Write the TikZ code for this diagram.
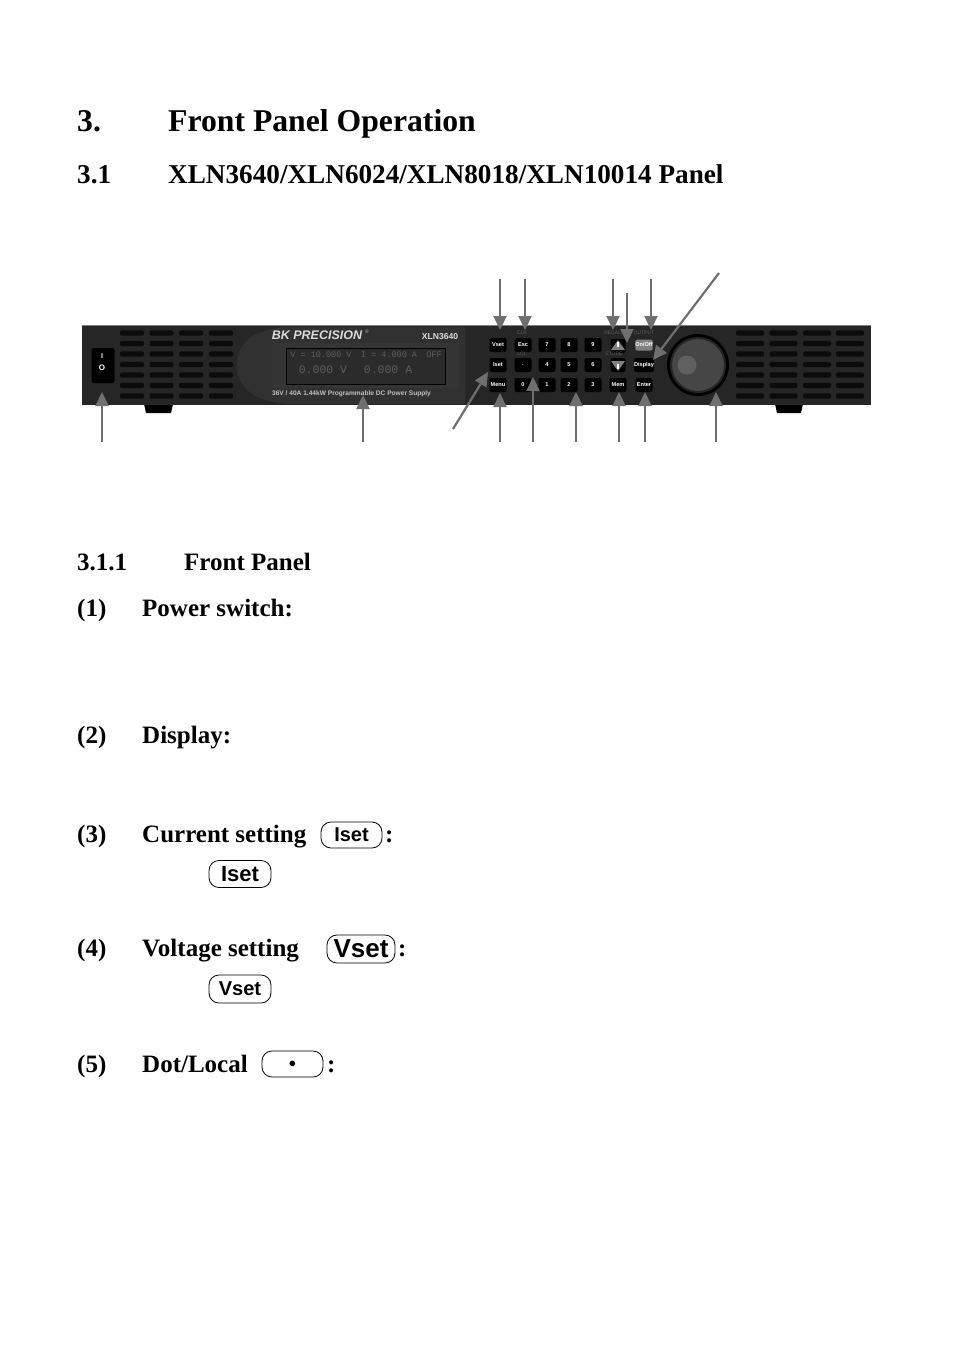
\documentclass[tikz,border=0pt]{standalone}
\usepackage{fontspec}
\setmainfont{Liberation Serif}
\setsansfont{Liberation Sans}
\setmonofont{Liberation Mono}
\usepackage{tikz}
\usetikzlibrary{arrows.meta}

\definecolor{bodygray}{HTML}{262626}
\definecolor{ventgray}{HTML}{0B0B0B}
\definecolor{bezelgray}{HTML}{353535}
\definecolor{lcdgray}{HTML}{2B2B2B}
\definecolor{lcdtext}{HTML}{5E5E5E}
\definecolor{arrowgray}{HTML}{6F6F6F}

\tikzset{
  heading/.style = { anchor = base west, inner sep = 0, font = \bfseries\fontsize{31.7}{36}\selectfont },
  subheading/.style = { anchor = base west, inner sep = 0, font = \bfseries\fontsize{27.2}{30}\selectfont },
  itemtext/.style = { anchor = base west, inner sep = 0, font = \bfseries\fontsize{25}{30}\selectfont },
  keyicon/.style = { draw, rounded corners = 10, line width = .8, inner sep = 0, font = \sffamily\bfseries\fontsize{#1}{25}\selectfont },
  keyicon/.default = 21,
  panelkey/.style = { fill = black, text = white, rounded corners = 2, minimum width = 17, minimum height = 14, inner sep = 0, font = \sffamily\bfseries\fontsize{5.6}{7}\selectfont },
  panelnote/.style = { text = lcdtext, inner sep = 0, font = \sffamily\fontsize{5}{6}\selectfont },
  lcdtextnode/.style = { text = lcdtext, inner sep = 0, font = \ttfamily\fontsize{#1}{14}\selectfont },
  callout/.style = { draw = arrowgray, line width = 2.2, -{Triangle[width = 13, length = 14]} },
}

\begin{document}
\begin{tikzpicture}[x = 1pt, y = -1pt]
    \useasboundingbox (0, 0) rectangle (954, 1354);

    % page text
    \node[heading] (secnum) at (77, 131) {3.};
    \node[heading] (sectitle) at (168, 131) {Front Panel Operation};
    \node[subheading] (subnum) at (77, 183) {3.1};
    \node[subheading] (subtitle) at (168, 183) {XLN3640/XLN6024/XLN8018/XLN10014 Panel};
    \node[itemtext] (subsubnum) at (77, 570) {3.1.1};
    \node[itemtext] (subsubtitle) at (184, 570) {Front Panel};
    \node[itemtext] (num1) at (77, 616) {(1)};
    \node[itemtext] (item1) at (142, 616) {Power switch:};
    \node[itemtext] (num2) at (77, 743) {(2)};
    \node[itemtext] (item2) at (142, 743) {Display:};
    \node[itemtext] (num3) at (77, 842) {(3)};
    \node[itemtext] (item3) at (142, 842) {Current setting};
    \node[itemtext] (colon3) at (385, 842) {:};
    \node[itemtext] (num4) at (77, 956) {(4)};
    \node[itemtext] (item4) at (142, 956) {Voltage setting};
    \node[itemtext] (colon4) at (398, 956) {:};
    \node[itemtext] (num5) at (77, 1072) {(5)};
    \node[itemtext] (item5) at (142, 1072) {Dot/Local};
    \node[itemtext] (colon5) at (327, 1072) {:};

    % key icons
    \node[keyicon = 20, minimum width = 61, minimum height = 26] (isetA) at (351.5, 835) {Iset};
    \node[keyicon = 22, minimum width = 62, minimum height = 27] (isetB) at (240, 874) {Iset};
    \node[keyicon = 26, minimum width = 68, minimum height = 28] (vsetA) at (361, 949) {Vset};
    \node[keyicon = 20, minimum width = 62, minimum height = 28] (vsetB) at (240, 989) {Vset};
    \node[keyicon, minimum width = 61, minimum height = 26] (dotkey) at (292.5, 1064) {\fontsize{14}{14}\selectfont $\bullet$};

    % panel body
    \fill[black] (144, 404) -- (173, 404) -- (171, 413) -- (146, 413) -- cycle;
    \fill[black] (775, 404) -- (803, 404) -- (801, 413) -- (777, 413) -- cycle;
    \fill[bodygray] (82, 325) rectangle (871, 405);
    \draw[gray, line width = .8] (82, 325) -- (871, 325);
    \fill[bodygray!95!white] (285, 327) .. controls (250, 330) and (237, 345) .. (237, 365) .. controls (237, 385) and (250, 400) .. (285, 404) -- (465, 404) -- (465, 327) -- cycle;

    % vents
    \foreach \ventrow in {333, 343.5, 354, 364.5, 375, 385.5, 396} {
      \foreach \ventx in {120, 149.5, 179, 209} \fill[ventgray, rounded corners = 2] (\ventx, \ventrow - 2.7) rectangle ++(24, 5.4);
      \foreach \ventx in {736, 769.5, 803, 836} \fill[ventgray, rounded corners = 2] (\ventx, \ventrow - 2.7) rectangle ++(28, 5.4);
    }

    % power switch
    \node[fill = black, rounded corners = 2, minimum width = 23, minimum height = 35, inner sep = 0] (switch) at (103, 365.5) {};
    \node[text = white, inner sep = 0, font = \sffamily\bfseries\fontsize{7}{8}\selectfont] (switchon) at (102, 356) {I};
    \node[text = white, inner sep = 0, font = \sffamily\bfseries\fontsize{8}{8}\selectfont] (switchoff) at (102, 368) {O};

    % display
    \node[fill = bezelgray, rounded corners = 3, minimum width = 187, minimum height = 45, inner sep = 0] (bezel) at (365.5, 365.5) {};
    \node[fill = lcdgray, draw = black, minimum width = 159, minimum height = 36, inner sep = 0] (lcd) at (365.5, 366) {};
    \node[lcdtextnode = 8.5] (lcdV) at (321, 355) {V = 10.000 V};
    \node[lcdtextnode = 8.5] (lcdI) at (389, 355) {I = 4.000 A};
    \node[lcdtextnode = 8.5] (lcdS) at (434, 355) {OFF};
    \node[lcdtextnode = 11.5] (lcdVout) at (323, 370) {0.000 V};
    \node[lcdtextnode = 11.5] (lcdIout) at (388, 370) {0.000 A};

    % brand and model
    \node[text = white!85!black, inner sep = 0, font = \sffamily\bfseries\itshape\fontsize{12.5}{13}\selectfont] (brand) at (317, 335) {BK PRECISION};
    \node[text = white!70!black, inner sep = 0, font = \sffamily\fontsize{5}{6}\selectfont] (regmark) at (367, 332) {\textregistered};
    \node[text = white!85!black, inner sep = 0, font = \sffamily\bfseries\fontsize{8.6}{9}\selectfont] (model) at (440, 337) {XLN3640};
    \node[text = white!75!black, inner sep = 0, font = \sffamily\bfseries\fontsize{6.6}{7}\selectfont] (rating) at (351.5, 394) {36V / 40A 1.44kW Programmable DC Power Supply};

    % keys
    \foreach \keyid/\keyx/\keyy/\keytext in {
      vset/498/345/Vset, esc/523/345/Esc, seven/547/345/7, eight/569/345/8, nine/593/345/9,
      iset/498/365/Iset, point/523/365/., four/547/365/4, five/569/365/5, six/593/365/6, display/644/365/Display,
      menu/498/385/Menu, zero/523/385/0, one/547/385/1, two/569/385/2, three/593/385/3, mem/618/385/Mem, enter/644/385/Enter
    } {
      \node[panelkey] (key\keyid) at (\keyx, \keyy) {\keytext};
    }
    \node[panelkey, fill = gray, text = white, minimum height = 11] (keyonoff) at (644, 345) {On/Off};
    \node[panelkey, minimum width = 15] (keyup) at (618, 346) {};
    \node[panelkey, minimum width = 15] (keydown) at (618, 365) {};
    \fill[gray] (618, 340) -- (625, 350) -- (611, 350) -- cycle;
    \fill[gray] (618, 371) -- (625, 361) -- (611, 361) -- cycle;
    \fill[white] (617, 342) rectangle (619, 347);
    \fill[white] (617, 364) rectangle (619, 369);

    \node[panelnote] (noteclr) at (522, 333) {CLR};
    \node[panelnote] (notelcl) at (522, 354) {LCL};
    \node[panelnote] (noterecall) at (614, 333) {RECALL};
    \node[panelnote] (notestore) at (614, 354) {STORE};
    \node[panelnote] (noteoutput) at (644, 333) {OUTPUT};

    % knob
    \node[circle, fill = black, minimum size = 62, inner sep = 0] (knobring) at (698, 365) {};
    \node[circle, fill = gray!55!black, draw = black!70!gray, line width = 2, minimum size = 54, inner sep = 0] (knob) at (698, 365) {};
    \node[circle, fill = gray!75!black, minimum size = 19, inner sep = 0] (knoblens) at (687, 365) {};

    % callouts
    \foreach \arrowid/\arrowx/\arrowfrom/\arrowto in {
      a/500/279/330, b/525/279/330, c/613/279/330, d/627/293/343, e/651/279/330,
      f/102/442/392, g/363/442/395, h/500/442/393, i/533/442/377, j/576/442/392, k/619/442/392, l/645/442/392, m/716/442/392
    } {
      \coordinate (from\arrowid) at (\arrowx, \arrowfrom);
      \coordinate (to\arrowid) at (\arrowx, \arrowto);
      \draw[callout] (from\arrowid) -- (to\arrowid);
    }
    \coordinate (fromdisplay) at (719, 273);
    \coordinate (todisplay) at (653, 360);
    \draw[callout] (fromdisplay) -- (todisplay);
    \coordinate (fromiset) at (453, 429);
    \coordinate (toiset) at (488, 372);
    \draw[callout] (fromiset) -- (toiset);
  \end{tikzpicture}
\end{document}
